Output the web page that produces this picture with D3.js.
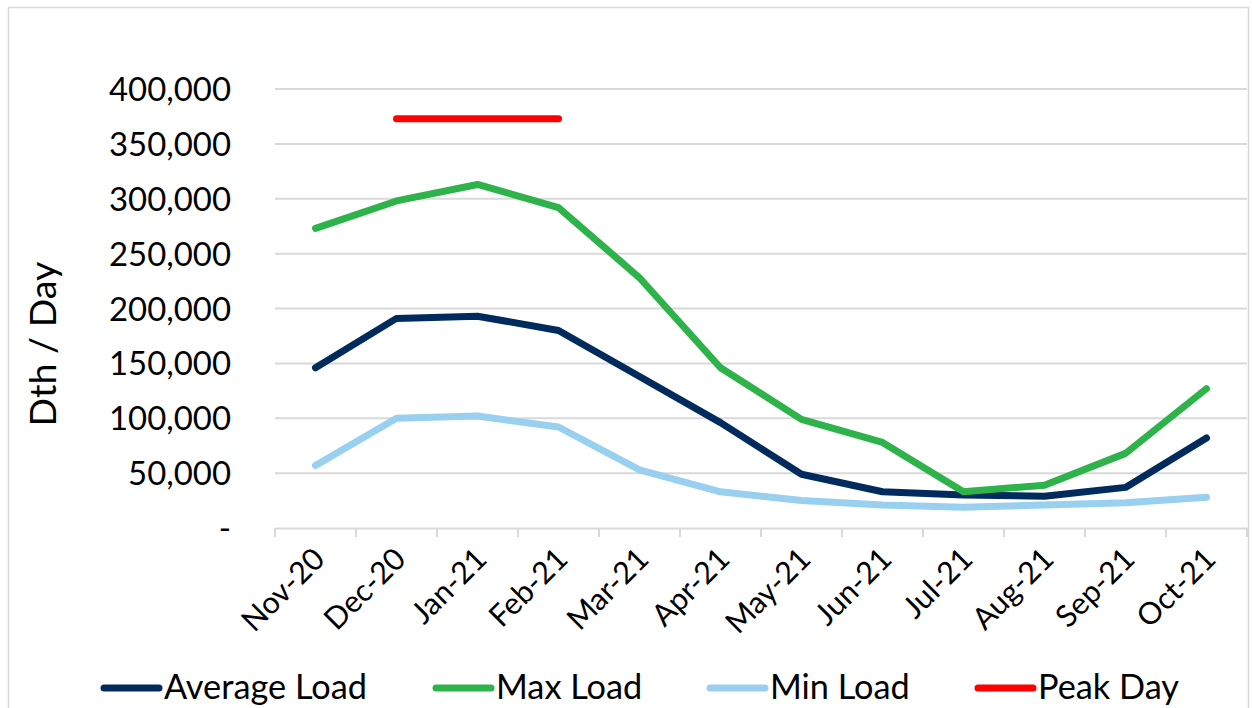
<!DOCTYPE html>
<html>
<head>
<meta charset="utf-8">
<script src="https://cdn.jsdelivr.net/npm/d3@7"></script>
<style>
  body { margin: 0; background: #fff; }
  svg { display: block; font-family: Lato, "Liberation Sans", sans-serif; }
</style>
</head>
<body>
<div id="chart"></div>
<script>
const months = ["Nov-20", "Dec-20", "Jan-21", "Feb-21", "Mar-21", "Apr-21",
  "May-21", "Jun-21", "Jul-21", "Aug-21", "Sep-21", "Oct-21"];
const averageLoad = [146000, 191000, 193000, 180000, 138000, 96000, 49000, 33000, 30000, 29000, 37000, 82000];
const maxLoad = [273000, 298000, 313000, 292000, 228000, 146000, 99000, 78000, 33000, 39000, 68000, 127000];
const minLoad = [57000, 100000, 102000, 92000, 53000, 33000, 25000, 21000, 19000, 21000, 23000, 28000];
const peakDay = [null, 373000, 373000, 373000, null, null, null, null, null, null, null, null];
const yTicks = [0, 50000, 100000, 150000, 200000, 250000, 300000, 350000, 400000];

const series = [
  { name: "Average Load", values: averageLoad, color: "#002b5c" },
  { name: "Max Load", values: maxLoad, color: "#2db34a" },
  { name: "Min Load", values: minLoad, color: "#99d0f0" },
  { name: "Peak Day", values: peakDay, color: "#ff0000" },
];

const svgWidth = 1252;
const svgHeight = 708;
const margin = { top: 89, right: 5, bottom: 180, left: 275 };
const width = svgWidth - margin.left - margin.right;
const height = svgHeight - margin.top - margin.bottom;

const root = d3.select("#chart").append("svg")
  .attr("width", svgWidth)
  .attr("height", svgHeight);

// pick a font size so that a sample string gets the wanted width
const fitSize = (sample, target) => {
  const t = root.append("text").attr("font-size", 32).text(sample);
  const w = t.node().getComputedTextLength();
  t.remove();
  return 32 * target / w;
};
const tickSize = fitSize("400,000", 122);
const legendSize = fitSize("Average Load", 203);
const titleSize = fitSize("Dth / Day", 165);
const monthSize = 30.5;

// outer chart border
root.append("rect")
  .attr("x", 8.5).attr("y", 7.5)
  .attr("width", 1240).attr("height", 720)
  .attr("fill", "none")
  .attr("stroke", "#d9d9d9")
  .attr("stroke-width", 1.5);

const svg = root.append("g")
  .attr("transform", "translate(" + margin.left + "," + margin.top + ")");

const xScale = d3.scaleBand().domain(months).range([0, width]);
const yScale = d3.scaleLinear().domain([0, 400000]).range([height, 0]);
const cx = (m) => xScale(m) + xScale.bandwidth() / 2;

// gridlines
svg.selectAll("line.grid")
  .data(yTicks.slice(1))
  .enter()
  .append("line")
  .attr("class", "grid")
  .attr("x1", 0).attr("x2", width)
  .attr("y1", (d) => yScale(d)).attr("y2", (d) => yScale(d))
  .attr("stroke", "#d9d9d9")
  .attr("stroke-width", 2);

// y labels
svg.selectAll("text.ytick")
  .data(yTicks)
  .enter()
  .append("text")
  .attr("class", "ytick")
  .attr("x", -44)
  .attr("y", (d) => yScale(d) + 12)
  .attr("text-anchor", "end")
  .attr("font-size", tickSize)
  .attr("fill", "#000")
  .text((d) => (d === 0 ? "-" : d3.format(",")(d)));

// x axis line and ticks
const xAxis = svg.append("g")
  .attr("transform", "translate(0," + height + ")")
  .call(d3.axisBottom(xScale).tickSize(0).tickFormat(""));
xAxis.select(".domain").attr("stroke", "#d9d9d9").attr("stroke-width", 2);

const edges = months.map((m) => xScale(m)).concat([width]);
svg.selectAll("line.xtick")
  .data(edges)
  .enter()
  .append("line")
  .attr("class", "xtick")
  .attr("x1", (d) => d).attr("x2", (d) => d)
  .attr("y1", height).attr("y2", height + 9)
  .attr("stroke", "#d9d9d9")
  .attr("stroke-width", 2);

// rotated month labels
svg.selectAll("text.month")
  .data(months)
  .enter()
  .append("text")
  .attr("class", "month")
  .attr("text-anchor", "end")
  .attr("font-size", monthSize)
  .attr("transform", (d) => "translate(" + (cx(d) + 11) + "," + (height + 33) + ") rotate(-45)")
  .text((d) => d);

// y axis title
root.append("text")
  .attr("transform", "translate(56,344) rotate(-90)")
  .attr("text-anchor", "middle")
  .attr("font-size", titleSize)
  .text("Dth / Day");

// lines
const line = d3.line()
  .defined((d) => d.v !== null)
  .x((d) => cx(d.m))
  .y((d) => yScale(d.v));

series.forEach((s) => {
  svg.append("path")
    .datum(months.map((m, i) => ({ m, v: s.values[i] })))
    .attr("fill", "none")
    .attr("stroke", s.color)
    .attr("stroke-width", 7)
    .attr("stroke-linejoin", "round")
    .attr("stroke-linecap", "round")
    .attr("d", line);
});

// legend
const legendX = [104, 436, 710, 978];
const legend = root.selectAll("g.legend")
  .data(series)
  .enter()
  .append("g")
  .attr("class", "legend")
  .attr("transform", (d, i) => "translate(" + legendX[i] + ",688)");
legend.append("line")
  .attr("x1", 0).attr("x2", 55)
  .attr("stroke", (d) => d.color)
  .attr("stroke-width", 7)
  .attr("stroke-linecap", "round");
legend.append("text")
  .attr("x", 60)
  .attr("y", 11)
  .attr("font-size", legendSize)
  .text((d) => d.name);
</script>
</body>
</html>
